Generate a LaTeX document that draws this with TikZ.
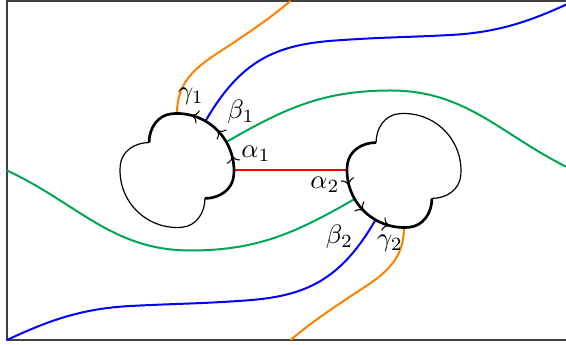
\documentclass[tikz,border=0pt]{standalone}
\usetikzlibrary{arrows.meta}
\definecolor{mygreen}{RGB}{0,166,81}
\begin{document}
\begin{tikzpicture}[x=0.375pt,y=0.375pt,
  framesty/.style={line width=0.5pt,black!75},
  cloudthin/.style={line width=0.45pt},
  cloudthick/.style={line width=1pt},
  curvesty/.style={line width=0.75pt},
  flowtip/.style={line width=0.4pt,-{To}},
  lab/.style={inner sep=0pt}]
\useasboundingbox (-290.5,-174.5) rectangle (275.5,170.5);
\draw[framesty] (-283.5,-169.5) rectangle (283.5,169.5);
% named points
\coordinate (c1) at (-113.5,0);
\coordinate (c2) at (113.5,0);
\coordinate (g1) at (-113.5,57);
\coordinate (b1) at (-85,49.4);
\coordinate (gr1) at (-64.1,28.5);
\coordinate (a1) at (-56.5,0);
\coordinate (g2) at (113.5,-57);
\coordinate (b2) at (85,-49.4);
\coordinate (gr2) at (64.1,-28.5);
\coordinate (a2) at (56.5,0);
\coordinate (gt) at (0,169.5);
\coordinate (gb) at (0,-169.5);
\coordinate (bt) at (283.5,169.5);
\coordinate (bb) at (-283.5,-169.5);
\coordinate (grr) at (283.5,0);
\coordinate (grl) at (-283.5,0);
\coordinate (om1) at (-72,118);
\coordinate (om2) at (72,-118);
\coordinate (bm1) at (45,130);
\coordinate (bn1) at (160,135.5);
\coordinate (bm2) at (-45,-130);
\coordinate (bn2) at (-160,-135.5);
\coordinate (gm1) at (100,80);
\coordinate (gm2) at (-100,-80);
% curves
\draw[curvesty,orange] (g1) .. controls +(90:30) and +(213:30) .. (om1) .. controls +(33:30) and +(220:30) .. (gt);
\draw[curvesty,orange] (g2) .. controls +(270:30) and +(33:30) .. (om2) .. controls +(213:30) and +(40:30) .. (gb);
\draw[curvesty,blue] (b1) .. controls +(60:70) and +(184:60) .. (bm1)
  .. controls +(4:50) and +(183:50) .. (bn1)
  .. controls +(3:50) and +(205:45) .. (bt);
\draw[curvesty,blue] (b2) .. controls +(240:70) and +(4:60) .. (bm2)
  .. controls +(184:50) and +(3:50) .. (bn2)
  .. controls +(183:50) and +(25:45) .. (bb);
\draw[curvesty,mygreen] (gr1) to[out=30,in=180] (gm1) to[out=0,in=155] (grr);
\draw[curvesty,mygreen] (gr2) to[out=210,in=0] (gm2) to[out=180,in=-25] (grl);
\draw[curvesty,red] (a1) -- (a2);
% clouds
\foreach \cx/\rot in {-113.5/0, 113.5/180}{
  \begin{scope}[shift={(\cx,0)},rotate=\rot]
    \draw[cloudthick] (135:39.5) to[out=90,in=185] (95:57)
      arc[start angle=95,end angle=-5,radius=57] to[out=-95,in=0] (-45:39.5);
    \draw[cloudthin] (-45:39.5) to[out=-90,in=5] (-85:57)
      arc[start angle=-85,end angle=-185,radius=57] to[out=85,in=180] (135:39.5);
    \foreach \ang in {15,45,75}{
      \draw[flowtip] (\ang-3:57) arc[start angle=\ang-3,end angle=\ang,radius=57];
    }
  \end{scope}
}
% labels
\node[lab] (la1) at (-34.5,16.5) {$\alpha_1$};
\node[lab] (lb1) at (-49.5,59) {$\beta_1$};
\node[lab] (lg1) at (-99.5,74.5) {$\gamma_1$};
\node[lab] (la2) at (34.5,-14.5) {$\alpha_2$};
\node[lab] (lb2) at (49,-66.5) {$\beta_2$};
\node[lab] (lg2) at (99.5,-72.5) {$\gamma_2$};
\end{tikzpicture}
\end{document}
